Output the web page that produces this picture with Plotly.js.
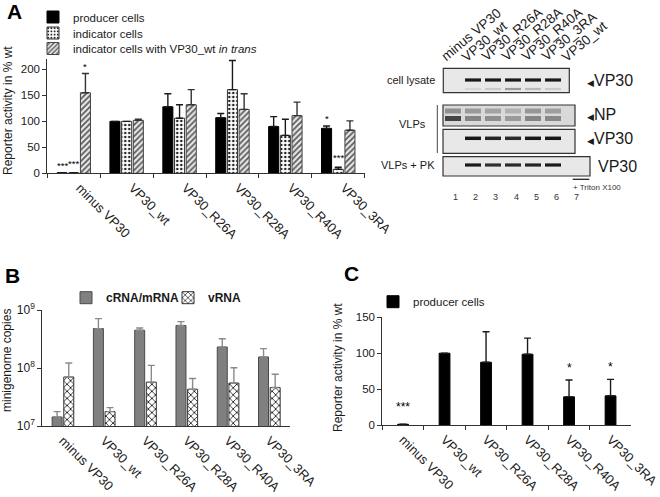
<!DOCTYPE html>
<html><head><meta charset="utf-8">
<script src="https://cdn.plot.ly/plotly-3.0.1.min.js"></script>
<style>html,body{margin:0;padding:0;background:#fff}#chart{width:660px;height:497px}</style>
</head><body><div id="chart"></div>
<script>
const W = 660, H = 497;
const FONT = 'Liberation Sans, Arial, sans-serif';
const INK = '#1a1a1a';

// ---------- data ----------
const categories = ['minus VP30','VP30_wt','VP30_R26A','VP30_R28A','VP30_R40A','VP30_3RA'];
// Panel A (Reporter activity in % wt)
const aProducer    = [1, 100, 128, 107, 90, 86.5];
const aProducerErr = [0, 0, 25, 8, 19, 4.5];
const aIndicator    = [1, 100, 106, 161, 73, 7.7];
const aIndicatorErr = [0, 0, 26, 56, 31, 4];
const aTrans    = [155, 102, 132, 123, 111, 83];
const aTransErr = [37, 2, 29, 30, 26, 18];
const aStarsProducer  = ['***','','','','','*'];
const aStarsIndicator = ['***','','','','','***'];
const aStarsTrans     = ['*','','','','',''];
// Panel B (minigenome copies)
const bCRNA       = [1.43e7, 4.78e8, 4.47e8, 5.4e8, 2.3e8, 1.55e8];
const bCRNAErrTop = [1.77e7, 7.1e8, 4.9e8, 6.3e8, 3.2e8, 2.16e8];
const bVRNA       = [7.0e7, 1.77e7, 5.7e7, 4.3e7, 5.5e7, 4.6e7];
const bVRNAErrTop = [1.22e8, 2.07e7, 1.11e8, 6.6e7, 1.01e8, 7.8e7];
const bTickVals   = [1e7, 1e8, 1e9];
const bTickText   = ['10<sup>7</sup>','10<sup>8</sup>','10<sup>9</sup>'];
// Panel C
const cProducer    = [1, 100, 87.4, 98.6, 39.2, 40.6];
const cProducerErr = [0, 0, 42.4, 22.4, 23.4, 23];
const cStars = ['***','','','','*','*'];
// Western blot
const lanes = [1,2,3,4,5,6,7];
const laneLabels = ['minus VP30','VP30_wt','VP30_R26A','VP30_R28A','VP30_R40A','VP30_3RA','VP30_wt'];
const lysateVP30  = [0, 1, 1, 1, 1, 1, 0];
const lysateMinor = [0, 0.12, 0.18, 0.4, 0.25, 0.18, 0];
const npUpper     = [0.45, 0.4, 0.36, 0.3, 0.42, 0.38, 0];
const npLower     = [0.8, 0.5, 0.45, 0.4, 0.5, 0.48, 0];
const vlpVP30     = [0, 1, 0.95, 0.92, 1, 1, 0];
const pkVP30      = [0, 1, 0.9, 0.92, 0.95, 1, 0];

// ---------- helpers ----------
const fx = px => px / W;
const fy = py => 1 - py / H;
const zeros = n => new Array(n).fill(0);
const lx = px => (px - 443) / 20 + 0.5;   // blot pixel -> lane units

function errBars(arr, color) {
  return {type:'data', array:arr, arrayminus:zeros(arr.length), symmetric:false,
          color:color, thickness:1.4, width:3.5};
}

const traces = [];
// Panel A bars
const aW = 0.19, aOff = [-0.316, -0.095, 0.126];
traces.push({type:'bar', name:'producer cells', x:categories, y:aProducer,
  width:aW, offset:aOff[0], xaxis:'x', yaxis:'y', legend:'legend',
  marker:{color:'#000', line:{color:'#000', width:1}},
  error_y:errBars(aProducerErr, INK), hoverinfo:'skip'});
traces.push({type:'bar', name:'indicator cells', x:categories, y:aIndicator,
  width:aW, offset:aOff[1], xaxis:'x', yaxis:'y', legend:'legend2',
  marker:{color:'#fff', line:{color:'#333', width:1},
    pattern:{shape:'.', fgcolor:'#222', bgcolor:'#fff', size:4, solidity:0.3}},
  error_y:errBars(aIndicatorErr, INK), hoverinfo:'skip'});
traces.push({type:'bar', name:'indicator cells with VP30_wt <i>in trans</i>', x:categories, y:aTrans,
  width:aW, offset:aOff[2], xaxis:'x', yaxis:'y', legend:'legend3',
  marker:{color:'#e0e0e0', line:{color:'#444', width:1},
    pattern:{shape:'/', fgcolor:'#555', bgcolor:'#e6e6e6', size:4, solidity:0.4}},
  error_y:errBars(aTransErr, '#333'), hoverinfo:'skip'});

// Panel B bars
const bW = 0.242, bOff = [-0.262, 0.02];
traces.push({type:'bar', name:'<b>cRNA/mRNA</b>', x:categories, y:bCRNA,
  width:bW, offset:bOff[0], xaxis:'x2', yaxis:'y2', legend:'legend4',
  marker:{color:'#808080', line:{color:'#4a4a4a', width:1}},
  error_y:errBars(bCRNAErrTop.map((v,i)=>v-bCRNA[i]), '#8a8a8a'), hoverinfo:'skip'});
traces.push({type:'bar', name:'<b>vRNA</b>', x:categories, y:bVRNA,
  width:bW, offset:bOff[1], xaxis:'x2', yaxis:'y2', legend:'legend5',
  marker:{color:'#fff', line:{color:'#333', width:1},
    pattern:{shape:'x', fgcolor:'#111', bgcolor:'#fff', size:5, solidity:0.3}},
  error_y:errBars(bVRNAErrTop.map((v,i)=>v-bVRNA[i]), '#8a8a8a'), hoverinfo:'skip'});

// Panel C bars
const cW = 0.26, cOff = -0.13;
traces.push({type:'bar', name:'producer cells', x:categories, y:cProducer,
  width:cW, offset:cOff, xaxis:'x3', yaxis:'y3', legend:'legend6',
  marker:{color:'#000', line:{color:'#000', width:1}},
  error_y:errBars(cProducerErr, INK), hoverinfo:'skip'});

// Blot bands
function gray(v){ const g = Math.round(240 - v*215); return `rgb(${g},${g},${g})`; }
function bandRow(row, yRow, lw) {
  row.forEach((v, i) => {
    if (v <= 0) return;
    traces.push({type:'scatter', mode:'lines', x:[lanes[i]-0.4, lanes[i]+0.4], y:[yRow, yRow],
      xaxis:'x4', yaxis:'y4', showlegend:false, hoverinfo:'skip',
      line:{color:gray(v), width:lw}});
  });
}
bandRow(lysateVP30, 80, 3.2);
bandRow(lysateMinor, 89, 2.2);
bandRow(npUpper, 111, 5);
bandRow(npLower, 118.5, 5);
bandRow(vlpVP30, 138.3, 3.5);
bandRow(pkVP30, 165, 3.2);

// ---------- annotations ----------
const ann = [];
function starsA(stars, vals, errs, off, w, lift) {
  stars.forEach((s, i) => {
    if (!s) return;
    ann.push({xref:'x', yref:'y', x:i+off+w/2, y:vals[i]+errs[i], text:s, showarrow:false,
      yanchor:'bottom', xanchor:'center', yshift:lift, font:{size:9.5, color:'#000', family:FONT}});
  });
}
starsA(aStarsProducer, aProducer, aProducerErr, aOff[0], aW, 0);
starsA(aStarsIndicator, aIndicator, aIndicatorErr, aOff[1], aW, 2);
starsA(aStarsTrans, aTrans, aTransErr, aOff[2], aW, 0);
cStars.forEach((s, i) => {
  if (!s) return;
  ann.push({xref:'x3', yref:'y3', x:i+cOff+cW/2, y:cProducer[i]+cProducerErr[i], text:s,
    showarrow:false, yanchor:'bottom', xanchor:'center', yshift: i===0 ? 8 : 3,
    font:{size:12, color:'#000', family:FONT}});
});

// panel letters
[['A',14,11],['B',12.5,275.5],['C',351.5,273.5]].forEach(([t,x,y]) => {
  ann.push({xref:'paper', yref:'paper', x:fx(x), y:fy(y), text:'<b>'+t+'</b>', showarrow:false,
    xanchor:'center', yanchor:'middle', font:{size:21, color:'#000', family:FONT}});
});
// y titles
[['Reporter activity in % wt',8,111],['minigenome copies',7,361],['Reporter activity in % wt',338,368]].forEach(([t,x,y]) => {
  ann.push({xref:'paper', yref:'paper', x:fx(x), y:fy(y), text:t, textangle:-90, showarrow:false,
    xanchor:'center', yanchor:'middle', font:{size:12, color:INK, family:FONT}});
});

// blot texts
laneLabels.forEach((t, i) => {
  ann.push({xref:'x4', yref:'y4', x:lanes[i], y:67, text:t, textangle:-40, showarrow:false,
    xanchor:'left', yanchor:'bottom', xshift:-17, font:{size:13.5, color:INK, family:FONT}});
  ann.push({xref:'x4', yref:'y4', x:lanes[i], y:197, text:String(lanes[i]), showarrow:false,
    xanchor:'center', yanchor:'middle', xshift:3, font:{size:9, color:'#333', family:FONT}});
});
const tri = '<span style="font-size:9px">◀</span>';
[[tri+'VP30',585,80],[tri+'NP',585,114],[tri+'VP30',585,138.3],['VP30',596,166]].forEach(([t,x,y]) => {
  ann.push({xref:'x4', yref:'y4', x:lx(x), y:y, text:t, showarrow:false, xanchor:'left', yanchor:'middle',
    font:{size:16, color:INK, family:FONT}});
});
[['cell lysate',437,80,'right'],['VLPs',428,124,'right'],['VLPs + PK',437,165,'right']].forEach(([t,x,y,a]) => {
  ann.push({xref:'x4', yref:'y4', x:lx(x), y:y, text:t, showarrow:false, xanchor:a, yanchor:'middle',
    font:{size:11, color:INK, family:FONT}});
});
ann.push({xref:'x4', yref:'y4', x:lx(571), y:187.5, text:'+ Triton X100', showarrow:false,
  xanchor:'left', yanchor:'middle', font:{size:8, color:'#333', family:FONT}});

// blot shapes
const shapes = [];
function box(x0, x1, y0, y1, fill) {
  shapes.push({type:'rect', xref:'x4', yref:'y4', x0:lx(x0), x1:lx(x1), y0:y0, y1:y1,
    fillcolor:fill, line:{color:'#333', width:1.2}, layer:'below'});
}
box(443.3, 569.3, 68.3, 92.7, '#e8e8e8');
box(443, 575, 105, 126, '#d9d9d9');
box(443, 575, 129.3, 153.3, '#e8e8e8');
box(443, 590, 156.7, 176, '#e8e8e8');
shapes.push({type:'line', xref:'x4', yref:'y4', x0:lx(572.7), x1:lx(589.3), y0:179.3, y1:179.3,
  line:{color:'#222', width:1.3}});
shapes.push({type:'line', xref:'x4', yref:'y4', x0:lx(437.3), x1:lx(437.3), y0:105, y1:153,
  line:{color:'#444', width:1}});

// ---------- layout ----------
function catAxis(d0, d1, anchor, ticks, shift) {
  return {domain:[fx(d0), fx(d1)], anchor:anchor, type:'category', range:[-0.5, 5.5],
    showline:true, linecolor:'#333', linewidth:1, showgrid:false, zeroline:false,
    ticks:ticks ? 'outside' : '', tickson:'boundaries', ticklen:4, tickcolor:'#333',
    ticklabelshift:shift, ticklabelstandoff:1,
    tickangle:45, tickfont:{size:13, color:INK, family:FONT}, fixedrange:true};
}
function valAxis(p0, p1, anchor, extra) {
  return Object.assign({domain:[fy(p0), fy(p1)], anchor:anchor, showline:true, linecolor:'#333',
    linewidth:1, showgrid:false, zeroline:false, ticks:'outside', ticklen:4, tickcolor:'#333',
    tickfont:{size:11.5, color:INK, family:FONT}, fixedrange:true}, extra);
}
function leg(xText, yPx, size) {
  return {x:fx(xText-40), y:fy(yPx), xanchor:'left', yanchor:'middle', bgcolor:'rgba(0,0,0,0)',
    borderwidth:0, font:{size:size, color:INK, family:FONT}, itemclick:false, itemdoubleclick:false};
}

const layout = {
  width:W, height:H, margin:{l:0, r:0, t:0, b:0}, paper_bgcolor:'#fff', plot_bgcolor:'rgba(0,0,0,0)',
  font:{family:FONT, color:INK}, barmode:'overlay', showlegend:true,
  xaxis:catAxis(47.3, 364.7, 'y', true, 6),
  yaxis:valAxis(173.3, 59, 'x', {range:[0,220], tickvals:[0,50,100,150,200]}),
  xaxis2:catAxis(42.3, 290, 'y2', false, 0),
  yaxis2:valAxis(426, 310, 'x2', {type:'log', range:[7,9], tickvals:bTickVals, ticktext:bTickText,
    tickfont:{size:12, color:INK, family:FONT}}),
  xaxis3:catAxis(382.3, 631.3, 'y3', true, 0),
  yaxis3:valAxis(425, 317.3, 'x3', {range:[0,150], tickvals:[0,50,100,150]}),
  xaxis4:{domain:[fx(370), fx(650)], anchor:'y4', range:[lx(370), lx(650)], visible:false, fixedrange:true},
  yaxis4:{domain:[fy(205), fy(2)], anchor:'x4', range:[205, 2], visible:false, fixedrange:true},
  legend:leg(73, 17, 11.5),
  legend2:leg(73, 33, 11.5),
  legend3:leg(73, 48.5, 11.5),
  legend4:leg(106, 297.7, 12),
  legend5:leg(208, 297.7, 12),
  legend6:leg(413, 301.7, 11.5),
  annotations:ann, shapes:shapes
};

Plotly.newPlot('chart', traces, layout, {staticPlot:true, displayModeBar:false});
</script>
</body></html>
